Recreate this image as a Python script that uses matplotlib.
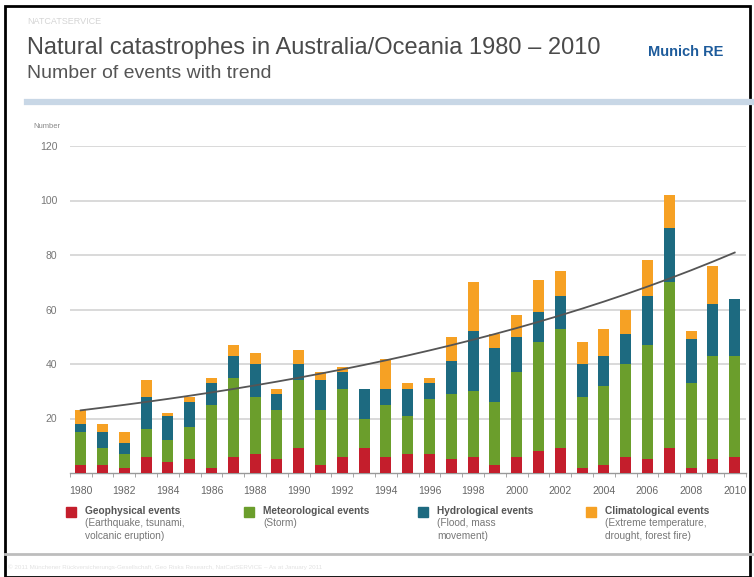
import numpy as np
import matplotlib
matplotlib.use('Agg')
import matplotlib.pyplot as plt
from matplotlib.patches import Rectangle
from matplotlib.lines import Line2D

plt.rcParams['font.family'] = ['Liberation Sans', 'DejaVu Sans']

years = np.arange(1980, 2011)
geophysical = [3, 3, 2, 6, 4, 5, 2, 6, 7, 5, 9, 3, 6, 9, 6,
               7, 7, 5, 6, 3, 6, 8, 9, 2, 3, 6, 5, 9, 2, 5, 6]
meteorological = [12, 6, 5, 10, 8, 12, 23, 29, 21, 18, 25, 20, 25, 11, 19,
                  14, 20, 24, 24, 23, 31, 40, 44, 26, 29, 34, 42, 61, 31, 38, 37]
hydrological = [3, 6, 4, 12, 9, 9, 8, 8, 12, 6, 6, 11, 6, 11, 6,
                10, 6, 12, 22, 20, 13, 11, 12, 12, 11, 11, 18, 20, 16, 19, 21]
climatological = [5, 3, 4, 6, 1, 2, 2, 4, 4, 2, 5, 3, 2, 0, 11,
                  2, 2, 9, 18, 5, 8, 12, 9, 8, 10, 9, 13, 12, 3, 14, 0]
year_labels = [str(y) for y in range(1980, 2011, 2)]

series = [
    ('Geophysical events', ['(Earthquake, tsunami,', 'volcanic eruption)'], geophysical, '#C41E2C'),
    ('Meteorological events', ['(Storm)'], meteorological, '#6B9E2C'),
    ('Hydrological events', ['(Flood, mass', 'movement)'], hydrological, '#1D6A80'),
    ('Climatological events', ['(Extreme temperature,', 'drought, forest fire)'], climatological, '#F6A124'),
]

W, H = 754, 577
fig = plt.figure(figsize=(W / 100, H / 100), dpi=100)
fig.patch.set_facecolor('white')

def fx(px):
    return px / W

def fy(py):
    return 1 - py / H

ax = fig.add_axes([fx(69.8), fy(473), fx(745.6) - fx(69.8), fy(146) - fy(473)])

bottom = np.zeros(len(years))
for name, sub, vals, col in series:
    vals = np.array(vals)
    ax.bar(years, vals, bottom=bottom, width=0.5, color=col, zorder=3)
    bottom = bottom + vals

# exponential trend fitted on the totals
totals = bottom
coef = np.polyfit(years - 1980, np.log(totals), 1)
trend = np.exp(np.polyval(coef, years - 1980))
ax.plot(years, trend, color='#555555', lw=1.3, zorder=4)

ax.set_xlim(1979.5, 2010.5)
ax.set_ylim(0, 120)
ax.set_yticks(range(20, 121, 20))
ax.tick_params(axis='y', length=0, pad=9, labelsize=7.5, labelcolor='#777777')
ax.yaxis.grid(True, color='#D3D3D3', lw=1.2, zorder=0)
ax.set_xticks(range(1980, 2011, 2))
ax.set_xticklabels(year_labels)
ax.set_xticks(np.arange(1979.5, 2011, 1), minor=True)
ax.tick_params(axis='x', which='major', length=0, pad=9, labelsize=7.5, labelcolor='#666666')
ax.tick_params(axis='x', which='minor', length=3, color='#999999', direction='out')
for s in ['top', 'right', 'left']:
    ax.spines[s].set_visible(False)
ax.spines['bottom'].set_color('#999999')
ax.spines['bottom'].set_linewidth(1)

# header
fig.text(fx(27), fy(22), 'NATCATSERVICE', fontsize=6.5, color='#D5D5D5', va='center')
fig.text(fx(27), fy(48), 'Natural catastrophes in Australia/Oceania 1980 \u2013 2010',
         fontsize=17, color='#4A4A4A', va='center')
fig.text(fx(27), fy(74), 'Number of events with trend', fontsize=14, color='#555555', va='center')
fig.text(fx(648), fy(52), 'Munich RE', fontsize=10.5, color='#1D5B9B', fontweight='bold', va='center')
fig.add_artist(Line2D([fx(27), fx(754)], [fy(102), fy(102)], color='#C8D7E6', lw=4.5))
fig.text(fx(33), fy(127), 'Number', fontsize=5.5, color='#888888', va='center')

# legend
leg_x = [66, 244, 418, 586]
for (name, sub, vals, col), x0 in zip(series, leg_x):
    fig.add_artist(Rectangle((fx(x0), fy(517)), fx(10), fy(507) - fy(517), color=col))
    fig.text(fx(x0 + 19), fy(511), name, fontsize=7.3, fontweight='bold', color='#555555', va='center')
    for k, line in enumerate(sub):
        fig.text(fx(x0 + 19), fy(523.5 + 12.5 * k), line, fontsize=7.3, color='#777777', va='center')

# footer
fig.add_artist(Line2D([fx(5), fx(754)], [fy(554), fy(554)], color='#BDBDBD', lw=2))
fig.text(fx(8), fy(567), '\u00a9 2011 M\u00fcnchener R\u00fcckversicherungs-Gesellschaft, Geo Risks Research, NatCatSERVICE \u2013 As at January 2011',
         fontsize=4.5, color='#E2E2E2', va='center')

# outer frame
fig.add_artist(Rectangle((fx(5), fy(577)), fx(745), fy(6) - fy(577), fill=False, ec='black', lw=2))

fig.savefig('out.png', dpi=100)
